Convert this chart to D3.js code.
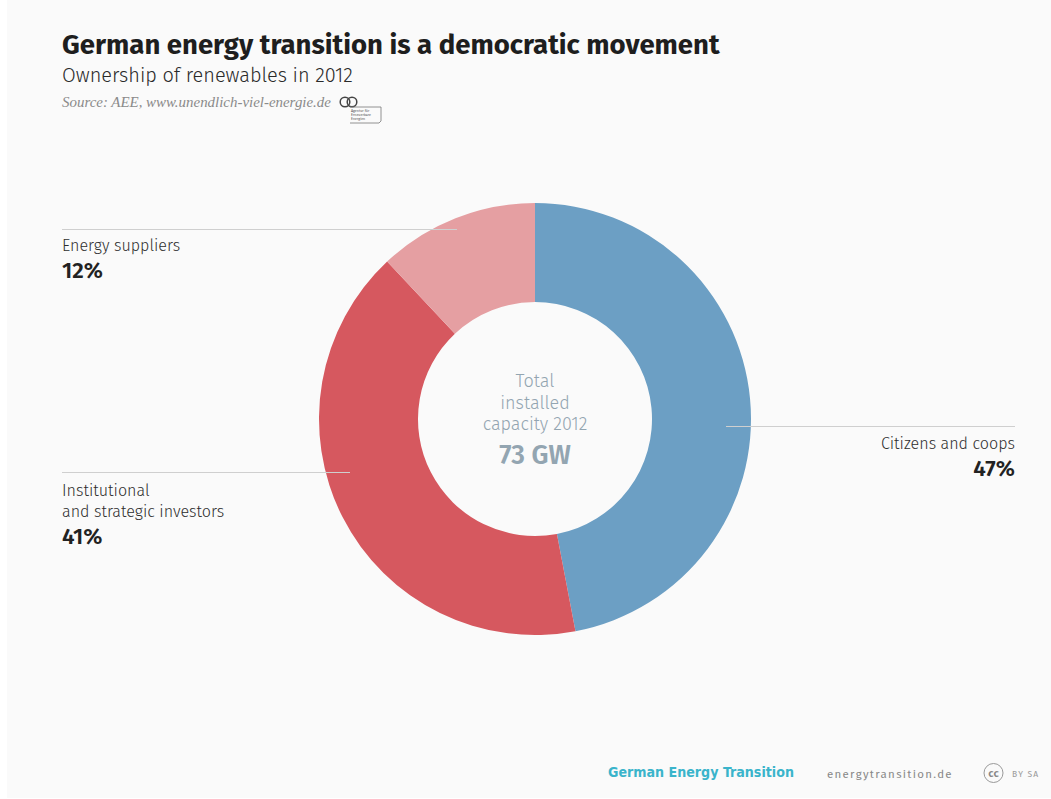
<!DOCTYPE html>
<html>
<head>
<meta charset="utf-8">
<script src="https://cdn.jsdelivr.net/npm/d3@7"></script>
<style>
  html, body { margin: 0; padding: 0; background: #ffffff; }
  svg { display: block; }
</style>
</head>
<body>
<svg id="chart" width="1051" height="799"></svg>
<script>
// ---- Data ----
const categories = ["Citizens and coops", "Institutional and strategic investors", "Energy suppliers"];
const values = [47, 41, 12];
const colors = ["#6c9fc4", "#d6585f", "#e59fa2"];
const labelLines = [["Citizens and coops"], ["Institutional", "and strategic investors"], ["Energy suppliers"]];
const totalLabel = ["Total", "installed", "capacity 2012"];
const totalValue = "73 GW";

// ---- Layout ----
const W = 1051, H = 799;
const svg = d3.select("#chart");
const font = "'Fira Sans', 'Noto Sans', 'Open Sans', sans-serif";

svg.append("rect").attr("x", 7).attr("y", 0).attr("width", W - 7).attr("height", H - 1).attr("fill", "#fafafa");

// Titles
svg.append("text").attr("x", 62).attr("y", 54)
  .attr("font-family", font).attr("font-weight", 700).attr("font-size", 27).attr("fill", "#1e1e1e")
  .attr("id", "title")
  .text("German energy transition is a democratic movement");
svg.append("text").attr("x", 62).attr("y", 82)
  .attr("font-family", font).attr("font-weight", 300).attr("font-size", 19.5).attr("fill", "#2a2a2a").attr("id", "sub")
  .text("Ownership of renewables in 2012");
svg.append("text").attr("x", 62).attr("y", 107)
  .attr("font-family", "'Liberation Serif', serif").attr("font-style", "italic").attr("font-size", 13).attr("fill", "#8a8a8a")
  .attr("id", "src")
  .text("Source: AEE, www.unendlich-viel-energie.de");

// AEE logo
const logo = svg.append("g").attr("transform", "translate(340,96)");
logo.append("circle").attr("cx", 5).attr("cy", 6).attr("r", 4.8).attr("fill", "none").attr("stroke", "#444").attr("stroke-width", 1.5);
logo.append("circle").attr("cx", 12).attr("cy", 6).attr("r", 4.8).attr("fill", "none").attr("stroke", "#444").attr("stroke-width", 1.5);
logo.append("path").attr("d", "M10,11 L41,11 L41,25 L39,27 L10,27").attr("fill", "none").attr("stroke", "#777").attr("stroke-width", 0.8);
["Agentur für", "Erneuerbare", "Energien"].forEach((t, i) => {
  logo.append("text").attr("x", 11).attr("y", 15.5 + i * 4).attr("font-size", 3.6).attr("font-family", font).attr("fill", "#555").text(t);
});

// Donut
const cx = 535, cy = 419, rOuter = 216, rInner = 117;
const pie = d3.pie().sort(null).value(d => d)(values);
const arc = d3.arc().innerRadius(rInner).outerRadius(rOuter);
const g = svg.append("g").attr("transform", `translate(${cx},${cy})`);
g.selectAll("path").data(pie).join("path")
  .attr("d", arc).attr("fill", (d, i) => colors[i]);

// Leader lines and labels
const lineColor = "#cfcfcf";
svg.append("line").attr("x1", 726).attr("x2", 1015).attr("y1", 426.5).attr("y2", 426.5).attr("stroke", lineColor).attr("stroke-width", 1);
svg.append("line").attr("x1", 62).attr("x2", 350).attr("y1", 472.5).attr("y2", 472.5).attr("stroke", lineColor).attr("stroke-width", 1);
svg.append("line").attr("x1", 62).attr("x2", 457).attr("y1", 229.5).attr("y2", 229.5).attr("stroke", lineColor).attr("stroke-width", 1);

const pct = d => d + "%";
function label(x, y, anchor, lines, val) {
  const t = svg.append("g");
  lines.forEach((l, i) => {
    t.append("text").attr("x", x).attr("y", y + i * 21).attr("text-anchor", anchor)
      .attr("font-family", font).attr("font-weight", 300).attr("font-size", 16.1).attr("fill", "#2e2e2e").text(l);
  });
  t.append("text").attr("x", x).attr("y", y + lines.length * 21 + 5.5).attr("text-anchor", anchor)
    .attr("font-family", font).attr("font-weight", 600).attr("font-size", 22.5).attr("fill", "#222").text(pct(val));
}
label(1015, 449, "end", labelLines[0], values[0]);
label(62, 496, "start", labelLines[1], values[1]);
label(62, 251, "start", labelLines[2], values[2]);

// Center text
totalLabel.forEach((t, i) => {
  svg.append("text").attr("x", cx).attr("y", 387 + i * 21.5).attr("text-anchor", "middle")
    .attr("font-family", font).attr("font-weight", 300).attr("font-size", 18).attr("fill", "#93a5b1").text(t);
});
svg.append("text").attr("x", cx).attr("y", 464).attr("text-anchor", "middle")
  .attr("font-family", font).attr("font-weight", 600).attr("font-size", 26.5).attr("fill", "#93a5b1").text(totalValue);

// Footer
svg.append("text").attr("x", 608).attr("y", 777)
  .attr("font-family", "'DejaVu Sans Condensed', 'Liberation Sans Narrow', sans-serif").attr("font-weight", 700)
  .attr("font-size", 17).attr("fill", "#3ab4cb").attr("id", "brand")
  .text("German Energy Transition");
svg.append("text").attr("x", 827).attr("y", 778)
  .attr("font-family", font).attr("font-size", 13).attr("letter-spacing", 1.3).attr("fill", "#888")
  .attr("id", "site")
  .text("energytransition.de");
svg.append("circle").attr("cx", 993.5).attr("cy", 773).attr("r", 9.5).attr("fill", "none").attr("stroke", "#999").attr("stroke-width", 1);
svg.append("text").attr("x", 993.5).attr("y", 777).attr("text-anchor", "middle")
  .attr("font-family", font).attr("font-size", 11).attr("font-weight", 600).attr("fill", "#888").text("cc");
svg.append("text").attr("x", 1012).attr("y", 777)
  .attr("font-family", font).attr("font-size", 8.5).attr("letter-spacing", 1.2).attr("fill", "#999").text("BY SA");

// Fit texts to reference widths
function fit(id, w) {
  const el = document.getElementById(id);
  const cur = el.getComputedTextLength();
  const fs = parseFloat(el.getAttribute("font-size"));
  el.setAttribute("font-size", (fs * w / cur).toFixed(2));
}
fit("title", 658);
fit("sub", 291);
fit("src", 269);
fit("brand", 186);
fit("site", 123);
</script>
</body>
</html>
